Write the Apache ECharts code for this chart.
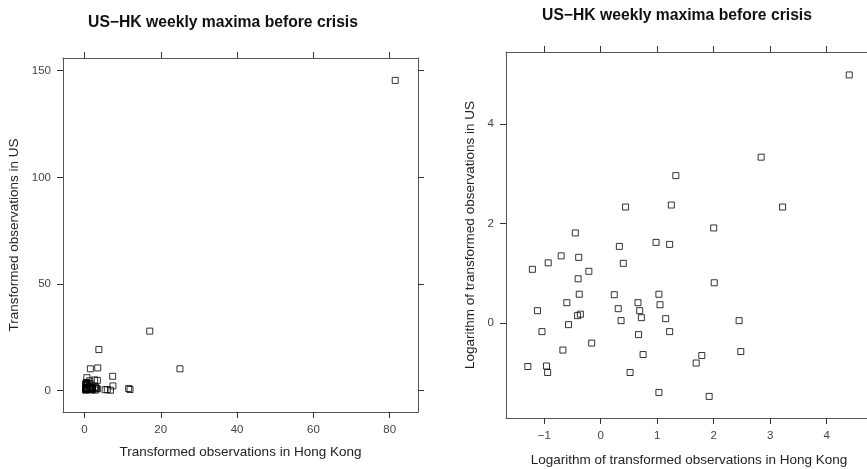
<!DOCTYPE html>
<html><head><meta charset="utf-8">
<script src="https://cdn.jsdelivr.net/npm/echarts@6/dist/echarts.min.js"></script>
<style>html,body{margin:0;padding:0;background:#fff}#c{width:867px;height:469px}</style>
</head><body><div id="c"></div>
<script>
// Logarithm of transformed observations
const logHK = [4.40, 2.84, 3.22, 1.33, 0.44, 1.25, 2.00, -0.45, 0.98, 1.22,
  0.33, -0.70, -0.39, -0.93, 0.40, -1.21, -0.21, -0.40, 2.01, -0.38,
  0.24, 1.03, -0.60, 0.66, 1.05, 0.31, -1.12, 0.69, -0.36, -0.41,
  0.72, 1.15, 0.36, 2.45, -0.57, -1.04, 1.22, 0.67, -0.16, -0.67,
  2.48, 0.75, 1.79, 1.69, -1.29, -0.96, -0.94, 0.52, 1.03, 1.92];
const logUS = [4.98, 3.33, 2.33, 2.96, 2.33, 2.37, 1.91, 1.81, 1.62, 1.58,
  1.54, 1.35, 1.32, 1.21, 1.20, 1.08, 1.04, 0.89, 0.81, 0.58,
  0.57, 0.58, 0.41, 0.41, 0.37, 0.29, 0.25, 0.25, 0.18, 0.15,
  0.11, 0.09, 0.05, 0.05, -0.03, -0.17, -0.17, -0.23, -0.40, -0.54,
  -0.57, -0.63, -0.65, -0.80, -0.87, -0.86, -0.99, -0.99, -1.39, -1.47];
// Transformed observations (left panel) are the exponentials of the logs
const obsHK = logHK.map(Math.exp);
const obsUS = logUS.map(Math.exp);

const xTicksLeft = [0, 20, 40, 60, 80];
const yTicksLeft = [0, 50, 100, 150];
const xTicksRight = [-1, 0, 1, 2, 3, 4];
const yTicksRight = [0, 2, 4];

const titleText = 'US\u2212HK weekly maxima before crisis';
const xNameLeft = 'Transformed observations in Hong Kong';
const yNameLeft = 'Transformed observations in US';
const xNameRight = 'Logarithm of transformed observations in Hong Kong';
const yNameRight = 'Logarithm of transformed observations in US';

const FONT = "'Liberation Sans', Arial, Helvetica, sans-serif";
const lineCol = '#555';
const tickCol = '#333';

function axis(grid, pos, min, max, ticks, showLabel, name, gap) {
  return {
    type: 'value', gridIndex: grid, position: pos, min: min, max: max,
    name: name || '', nameLocation: 'middle', nameGap: gap || 0,
    nameTextStyle: {fontFamily: FONT, fontSize: 13.5, color: '#222'},
    axisLine: {show: true, onZero: false, lineStyle: {color: lineCol, width: 1}},
    axisTick: {show: true, inside: false, length: 6, customValues: ticks, lineStyle: {color: tickCol}},
    axisLabel: {show: showLabel, customValues: ticks, margin: 12, fontFamily: FONT, fontSize: 11.5, color: '#444',
      formatter: v => String(v).replace('-', '\u2212')},
    splitLine: {show: false}
  };
}

const chart = echarts.init(document.getElementById('c'), null, {renderer: 'canvas'});
chart.setOption({
  animation: false,
  backgroundColor: '#fff',
  title: [
    {text: titleText, left: 218, top: 10, textAlign: 'center',
     textStyle: {fontFamily: FONT, fontSize: 15.7, fontWeight: 'bold', color: '#111'}},
    {text: titleText, left: 672, top: 3, textAlign: 'center',
     textStyle: {fontFamily: FONT, fontSize: 15.7, fontWeight: 'bold', color: '#111'}}
  ],
  grid: [
    {left: 63, top: 58, width: 355, height: 354, containLabel: false, outerBoundsMode: 'none'},
    {left: 506, top: 52, width: 366, height: 366, containLabel: false, outerBoundsMode: 'none'}
  ],
  xAxis: [
    axis(0, 'bottom', -5.62, 87.42, xTicksLeft, true, xNameLeft, 33),
    axis(0, 'top', -5.62, 87.42, xTicksLeft, false),
    axis(1, 'bottom', -1.677, 4.803, xTicksRight, true, xNameRight, 35),
    axis(1, 'top', -1.677, 4.803, xTicksRight, false)
  ],
  yAxis: [
    axis(0, 'left', -9.98, 155.97, yTicksLeft, true, yNameLeft, 42),
    axis(0, 'right', -9.98, 155.97, yTicksLeft, false),
    axis(1, 'left', -1.903, 5.44, yTicksRight, true, yNameRight, 29),
    axis(1, 'right', -1.903, 5.44, yTicksRight, false)
  ],
  series: [
    {type: 'scatter', xAxisIndex: 0, yAxisIndex: 0, symbol: 'rect', symbolSize: 6,
     itemStyle: {color: 'rgba(0,0,0,0)', borderColor: '#000', borderWidth: 1},
     data: obsHK.map((v, i) => [v, obsUS[i]])},
    {type: 'scatter', xAxisIndex: 2, yAxisIndex: 2, symbol: 'rect', symbolSize: 6,
     itemStyle: {color: 'rgba(0,0,0,0)', borderColor: '#000', borderWidth: 1},
     data: logHK.map((v, i) => [v, logUS[i]])}
  ]
});
</script></body></html>
